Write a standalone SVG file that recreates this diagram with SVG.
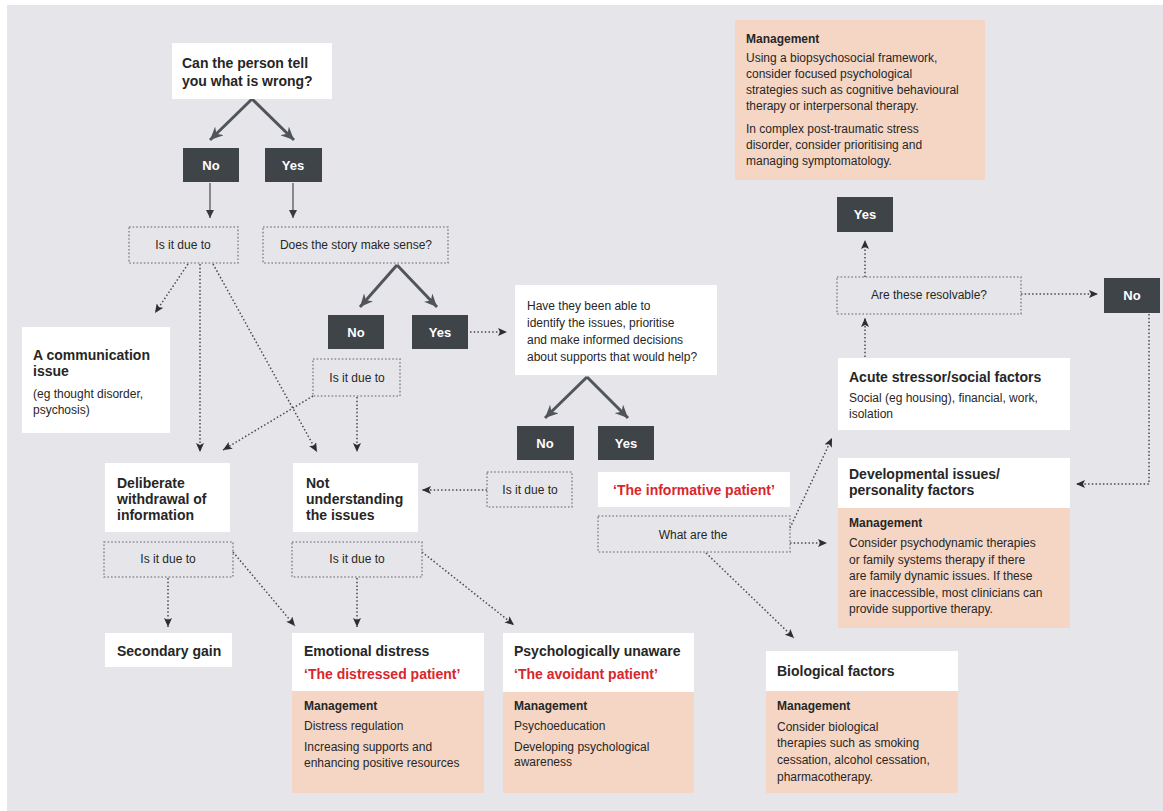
<svg xmlns="http://www.w3.org/2000/svg" width="1163" height="811" viewBox="0 0 1163 811">
<style>
text{font-family:"Liberation Sans",Arial,sans-serif;fill:#262626}
.h{font-weight:bold;font-size:14px}
.b{font-size:12px}
.m{font-weight:bold;font-size:12px}
.r{font-weight:bold;font-size:14px;fill:#d8262d}
.w{fill:#ffffff}
.pe{fill:#f5d6c5}
.dk{fill:#3f4449}
.dk-t{font-weight:bold;font-size:13px;fill:#ffffff;text-anchor:middle}
.db{fill:none;stroke:#8e8e92;stroke-width:1.6;stroke-dasharray:1.6 2}
.c{text-anchor:middle}
.thick{stroke:#50555b;stroke-width:3;fill:none}
.thin{stroke:#6a6a6e;stroke-width:1.5;fill:none}
.dot{stroke:#4a4a4e;stroke-width:1.5;fill:none;stroke-dasharray:1.5 2.2}
</style>
<defs>
<marker id="ah" markerUnits="userSpaceOnUse" markerWidth="14" markerHeight="12" refX="13" refY="6" orient="auto"><path d="M0,0 L13,6 L0,12 L4,6 Z" fill="#50555b"/></marker>
<marker id="as" markerUnits="userSpaceOnUse" markerWidth="8" markerHeight="8" refX="8" refY="4" orient="auto"><path d="M0,0 L8,4 L0,8 Z" fill="#3a3a3e"/></marker>
<marker id="ad" markerUnits="userSpaceOnUse" markerWidth="9" markerHeight="8" refX="9" refY="4" orient="auto"><path d="M0,0 L9,4 L0,8 L2,4 Z" fill="#2e2e32"/></marker>
</defs>
<rect x="0" y="0" width="1163" height="811" fill="#ffffff"/>
<rect x="7" y="5" width="1156" height="806" fill="#e6e6ea"/>

<g id="connectors">
<path class="thick" d="M252,99 L210,140" marker-end="url(#ah)"/>
<path class="thick" d="M252,99 L294,140" marker-end="url(#ah)"/>
<path class="thick" d="M397,265 L360,307" marker-end="url(#ah)"/>
<path class="thick" d="M397,265 L437,307" marker-end="url(#ah)"/>
<path class="thick" d="M587,377 L545,418" marker-end="url(#ah)"/>
<path class="thick" d="M587,377 L628,418" marker-end="url(#ah)"/>
<path class="thin" d="M210,183 L210,218" marker-end="url(#as)"/>
<path class="thin" d="M293,183 L293,218" marker-end="url(#as)"/>
<path class="dot" d="M188,264 L155,313" marker-end="url(#ad)"/>
<path class="dot" d="M200,264 L200,452" marker-end="url(#ad)"/>
<path class="dot" d="M213,264 L317,452" marker-end="url(#ad)"/>
<path class="dot" d="M313,396 L223,450" marker-end="url(#ad)"/>
<path class="dot" d="M357,397 L357,452" marker-end="url(#ad)"/>
<path class="dot" d="M470,332 L507,332" marker-end="url(#ad)"/>
<path class="dot" d="M487,490 L422,490" marker-end="url(#ad)"/>
<path class="dot" d="M168,578 L168,627" marker-end="url(#ad)"/>
<path class="dot" d="M233,552 L295,626" marker-end="url(#ad)"/>
<path class="dot" d="M357,578 L357,627" marker-end="url(#ad)"/>
<path class="dot" d="M422,552 L514,625" marker-end="url(#ad)"/>
<path class="dot" d="M790,528 L832,438" marker-end="url(#ad)"/>
<path class="dot" d="M790,543 L827,543" marker-end="url(#ad)"/>
<path class="dot" d="M706,553 L794,638" marker-end="url(#ad)"/>
<path class="dot" d="M865,357 L865,318" marker-end="url(#ad)"/>
<path class="dot" d="M865,277 L865,240" marker-end="url(#ad)"/>
<path class="dot" d="M1021,294 L1098,294" marker-end="url(#ad)"/>
<path class="dot" d="M1149,314 L1149,484 L1076,484" marker-end="url(#ad)"/>
</g>

<g id="q-tell">
<rect class="w" x="172" y="43" width="160" height="56"/>
<text class="h" x="182" y="68">Can the person tell</text>
<text class="h" x="182" y="86">you what is wrong?</text>
</g>
<g id="no-1"><rect class="dk" x="183" y="148" width="56" height="34"/><text class="dk-t" x="211" y="170">No</text></g>
<g id="yes-1"><rect class="dk" x="265" y="148" width="57" height="34"/><text class="dk-t" x="293" y="170">Yes</text></g>
<g id="due-1"><rect class="db" x="129" y="227" width="109" height="36"/><text class="b c" x="183" y="249">Is it due to</text></g>
<g id="q-story"><rect class="db" x="263" y="227" width="185" height="36"/><text class="b c" x="356" y="249">Does the story make sense?</text></g>
<g id="no-2"><rect class="dk" x="328" y="315" width="56" height="34"/><text class="dk-t" x="356" y="337">No</text></g>
<g id="yes-2"><rect class="dk" x="412" y="315" width="56" height="34"/><text class="dk-t" x="440" y="337">Yes</text></g>
<g id="due-2"><rect class="db" x="313" y="359" width="87" height="37"/><text class="b c" x="357" y="382">Is it due to</text></g>
<g id="communication">
<rect class="w" x="22" y="327" width="148" height="106"/>
<text class="h" x="33" y="360">A communication</text>
<text class="h" x="33" y="376">issue</text>
<text class="b" x="33" y="398">(eg thought disorder,</text>
<text class="b" x="33" y="414">psychosis)</text>
</g>
<g id="deliberate">
<rect class="w" x="105" y="463" width="125" height="69"/>
<text class="h" x="117" y="488">Deliberate</text>
<text class="h" x="117" y="504">withdrawal of</text>
<text class="h" x="117" y="520">information</text>
</g>
<g id="not-understanding">
<rect class="w" x="293" y="463" width="125" height="69"/>
<text class="h" x="306" y="488">Not</text>
<text class="h" x="306" y="504">understanding</text>
<text class="h" x="306" y="520">the issues</text>
</g>
<g id="q-identify">
<rect class="w" x="515" y="285" width="202" height="90"/>
<text class="b" x="527" y="310">Have they been able to</text>
<text class="b" x="527" y="327">identify the issues, prioritise</text>
<text class="b" x="527" y="344">and make informed decisions</text>
<text class="b" x="527" y="361">about supports that would help?</text>
</g>
<g id="no-3"><rect class="dk" x="517" y="426" width="57" height="34"/><text class="dk-t" x="545" y="448">No</text></g>
<g id="yes-3"><rect class="dk" x="598" y="426" width="56" height="34"/><text class="dk-t" x="626" y="448">Yes</text></g>
<g id="due-3"><rect class="db" x="487" y="472" width="85" height="35"/><text class="b c" x="530" y="494">Is it due to</text></g>
<g id="informative"><rect class="w" x="598" y="472" width="192" height="35"/><text class="r c" x="694" y="495">‘The informative patient’</text></g>
<g id="what-are"><rect class="db" x="598" y="516" width="192" height="36"/><text class="b c" x="693" y="539">What are the</text></g>
<g id="mgmt-top">
<rect class="pe" x="735" y="20" width="250" height="160"/>
<text class="m" x="746" y="43">Management</text>
<text class="b" x="746" y="62">Using a biopsychosocial framework,</text>
<text class="b" x="746" y="78">consider focused psychological</text>
<text class="b" x="746" y="94">strategies such as cognitive behavioural</text>
<text class="b" x="746" y="110">therapy or interpersonal therapy.</text>
<text class="b" x="746" y="133">In complex post-traumatic stress</text>
<text class="b" x="746" y="149">disorder, consider prioritising and</text>
<text class="b" x="746" y="165">managing symptomatology.</text>
</g>
<g id="yes-4"><rect class="dk" x="837" y="197" width="56" height="35"/><text class="dk-t" x="865" y="219">Yes</text></g>
<g id="resolvable"><rect class="db" x="837" y="277" width="184" height="37"/><text class="b c" x="929" y="299">Are these resolvable?</text></g>
<g id="no-4"><rect class="dk" x="1104" y="278" width="56" height="35"/><text class="dk-t" x="1132" y="300">No</text></g>
<g id="acute">
<rect class="w" x="838" y="358" width="232" height="72"/>
<text class="h" x="849" y="382">Acute stressor/social factors</text>
<text class="b" x="849" y="402">Social (eg housing), financial, work,</text>
<text class="b" x="849" y="418">isolation</text>
</g>
<g id="developmental">
<rect class="w" x="838" y="458" width="232" height="50"/>
<text class="h" x="849" y="479">Developmental issues/</text>
<text class="h" x="849" y="495">personality factors</text>
<rect class="pe" x="838" y="508" width="232" height="120"/>
<text class="m" x="849" y="527">Management</text>
<text class="b" x="849" y="547">Consider psychodynamic therapies</text>
<text class="b" x="849" y="564">or family systems therapy if there</text>
<text class="b" x="849" y="580">are family dynamic issues. If these</text>
<text class="b" x="849" y="597">are inaccessible, most clinicians can</text>
<text class="b" x="849" y="613">provide supportive therapy.</text>
</g>
<g id="due-4"><rect class="db" x="104" y="542" width="129" height="35"/><text class="b c" x="168" y="563">Is it due to</text></g>
<g id="due-5"><rect class="db" x="292" y="542" width="130" height="35"/><text class="b c" x="357" y="563">Is it due to</text></g>
<g id="secondary"><rect class="w" x="105" y="633" width="127" height="34"/><text class="h" x="117" y="656">Secondary gain</text></g>
<g id="emotional">
<rect class="w" x="292" y="633" width="192" height="58"/>
<text class="h" x="304" y="656">Emotional distress</text>
<text class="r" x="304" y="679">‘The distressed patient’</text>
<rect class="pe" x="292" y="691" width="192" height="102"/>
<text class="m" x="304" y="710">Management</text>
<text class="b" x="304" y="730">Distress regulation</text>
<text class="b" x="304" y="751">Increasing supports and</text>
<text class="b" x="304" y="767">enhancing positive resources</text>
</g>
<g id="psych-unaware">
<rect class="w" x="503" y="633" width="191" height="59"/>
<text class="h" x="514" y="656">Psychologically unaware</text>
<text class="r" x="514" y="679">‘The avoidant patient’</text>
<rect class="pe" x="503" y="692" width="191" height="101"/>
<text class="m" x="514" y="710">Management</text>
<text class="b" x="514" y="730">Psychoeducation</text>
<text class="b" x="514" y="751">Developing psychological</text>
<text class="b" x="514" y="766">awareness</text>
</g>
<g id="biological">
<rect class="w" x="766" y="651" width="192" height="40"/>
<text class="h" x="777" y="676">Biological factors</text>
<rect class="pe" x="766" y="691" width="192" height="102"/>
<text class="m" x="777" y="710">Management</text>
<text class="b" x="777" y="731">Consider biological</text>
<text class="b" x="777" y="747">therapies such as smoking</text>
<text class="b" x="777" y="764">cessation, alcohol cessation,</text>
<text class="b" x="777" y="781">pharmacotherapy.</text>
</g>
</svg>
